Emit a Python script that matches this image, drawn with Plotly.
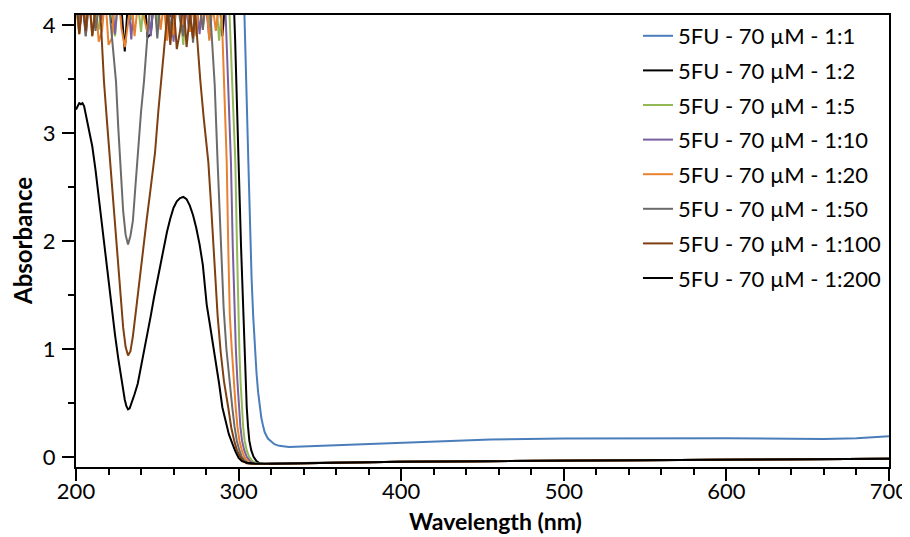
import plotly.graph_objects as go

# ---------------- data ----------------
labels = ["5FU - 70 µM - 1:1", "5FU - 70 µM - 1:2", "5FU - 70 µM - 1:5",
          "5FU - 70 µM - 1:10", "5FU - 70 µM - 1:20", "5FU - 70 µM - 1:50",
          "5FU - 70 µM - 1:100", "5FU - 70 µM - 1:200"]
colors = ["#4A7EBB", "#000000", "#93B956", "#7A5FA0", "#E9822E", "#6B6B6B", "#7E3F12", "#000000"]

# shared baseline beyond the absorption edge (non-blue series)
base_wl = [320, 340, 360, 400, 450, 500, 550, 600, 650, 700]
base_a = [-0.063, -0.058, -0.053, -0.046, -0.041, -0.037, -0.034, -0.030, -0.026, -0.018]

# 1:1 (blue) - off scale below ~303 nm
wl_1_1 = [200, 250, 300, 303, 303.5, 304.2, 305, 306, 307, 308, 309, 310, 311, 312, 313, 314,
          315, 316, 318, 320, 322, 325, 328, 331, 335, 340, 350, 380, 400, 430, 455, 500,
          550, 600, 640, 660, 680, 700]
a_1_1 = [4.6, 4.6, 4.6, 4.6, 4.15, 3.83, 3.3, 2.73, 2.15, 1.65, 1.3, 1.0, 0.78, 0.6, 0.46, 0.36,
         0.29, 0.23, 0.17, 0.14, 0.118, 0.102, 0.094, 0.092, 0.094, 0.097, 0.105, 0.122, 0.133,
         0.150, 0.162, 0.170, 0.174, 0.173, 0.168, 0.165, 0.172, 0.19]

# 1:2 (black)
noise_wl_1_2 = list(range(200, 297, 2))
noise_1_2 = [4.25, 4.18, 4.3, 4.05, 4.22, 4.28, 3.98, 4.2, 4.3, 4.12, 4.26, 4.02, 4.3, 4.21,
             4.15, 3.76, 4.24, 4.3, 4.1, 4.27, 4.19, 4.3, 3.89, 3.92, 4.25, 4.3, 4.16, 4.22,
             4.29, 4.08, 4.3, 4.2, 4.26, 3.97, 4.3, 4.18, 4.24, 4.3, 4.11, 4.27, 4.2, 3.95,
             4.3, 4.22, 4.28, 3.9, 4.25, 4.3, 4.2]
edge_wl_1_2 = [297.2, 297.9, 298.8, 300.0, 301.5, 302.9, 303.6, 304.3, 305.0, 305.8, 306.6,
               307.8, 309.2, 311, 313, 316]
edge_1_2 = [4.15, 3.85, 3.45, 2.73, 1.95, 1.31, 0.98, 0.7, 0.46, 0.28, 0.15, 0.06, 0.0,
            -0.04, -0.06, -0.066]

# 1:5 (green)
noise_wl_1_5 = list(range(200, 294, 2))
noise_1_5 = [4.22, 3.93, 4.3, 4.15, 4.26, 4.3, 4.08, 3.96, 4.28, 4.2, 4.3, 4.1, 3.9, 4.25,
             4.3, 4.18, 4.27, 4.05, 4.3, 4.22, 3.94, 4.28, 4.16, 4.3, 4.24, 4.02, 4.3, 4.19,
             4.26, 3.88, 4.3, 4.21, 4.12, 3.82, 4.25, 4.3, 4.17, 3.92, 4.28, 4.22, 4.3, 3.97,
             4.24, 4.3, 3.86, 4.2, 4.28]
edge_wl_1_5 = [294.3, 295.0, 296.3, 298.0, 299.0, 299.8, 300.5, 301.2, 301.9, 302.8, 303.7,
               305.0, 306.5, 308.5, 310.5, 314]
edge_1_5 = [4.15, 3.85, 3.45, 2.73, 1.95, 1.31, 0.98, 0.7, 0.46, 0.28, 0.15, 0.06, 0.0,
            -0.04, -0.06, -0.066]

# 1:10 (purple)
noise_wl_1_10 = list(range(200, 292, 2))
noise_1_10 = [4.3, 3.95, 4.2, 3.9, 4.28, 4.12, 4.3, 4.22, 4.05, 4.3, 4.18, 4.26, 3.92, 4.3,
              4.2, 4.1, 4.28, 3.87, 4.3, 4.22, 4.15, 4.3, 4.25, 3.9, 4.3, 4.18, 4.27, 4.3,
              4.06, 4.22, 3.85, 4.3, 4.2, 4.28, 4.12, 3.94, 4.3, 4.23, 3.92, 4.3, 4.18, 3.88,
              4.26, 4.3, 4.15, 4.24]
edge_wl_1_10 = [291.9, 292.7, 293.8, 295.3, 296.4, 297.4, 298.3, 299.2, 300.2, 301.1, 302.1,
                303.5, 305.0, 307, 309, 312]
edge_1_10 = [4.15, 3.85, 3.45, 2.73, 1.95, 1.31, 1.0, 0.72, 0.46, 0.28, 0.15, 0.06, 0.0,
             -0.04, -0.06, -0.066]

# 1:20 (orange)
noise_wl_1_20 = list(range(200, 289, 2))
noise_1_20 = [4.2, 3.92, 4.25, 4.05, 4.3, 3.9, 4.22, 3.85, 3.95, 4.28, 3.82, 3.88, 4.24, 4.3,
              3.97, 3.8, 4.02, 4.27, 3.9, 4.2, 4.3, 4.06, 3.93, 4.25, 4.14, 4.29, 3.96, 4.2,
              3.86, 4.3, 3.91, 4.22, 4.17, 4.0, 4.28, 3.94, 4.21, 3.9, 4.3, 3.98, 4.25, 3.86,
              4.19, 3.95, 4.22]
edge_wl_1_20 = [289.4, 290.2, 291.2, 292.7, 293.7, 294.6, 295.8, 297.0, 298.2, 299.3, 300.5,
                302.0, 303.5, 305.5, 307.5, 310]
edge_1_20 = [4.15, 3.85, 3.45, 2.73, 1.9, 1.31, 1.0, 0.7, 0.46, 0.28, 0.15, 0.06, 0.0,
             -0.04, -0.06, -0.066]

# 1:50 (gray)
noise_wl_1_50_a = list(range(200, 221, 2))
noise_1_50_a = [4.25, 4.05, 4.3, 3.9, 4.22, 4.3, 3.95, 4.18, 4.3, 4.1, 4.24]
dip_wl_1_50 = [221.5, 223.0, 224.6, 226.0, 227.3, 229.0, 230.5, 232.0, 233.5, 235.0, 236.5,
               238.0, 240.0, 241.8, 243.0, 244.3]
dip_1_50 = [3.98, 3.75, 3.48, 3.05, 2.68, 2.28, 2.06, 1.97, 2.05, 2.19, 2.5, 2.82, 3.2, 3.48,
            3.75, 3.98]
noise_wl_1_50_b = list(range(246, 282, 2))
noise_1_50_b = [4.2, 4.3, 3.88, 4.25, 4.12, 4.3, 3.93, 4.22, 4.3, 4.05, 3.9, 4.28, 4.18, 3.84,
                4.3, 4.2, 3.96, 4.26]
edge_wl_1_50 = [282.5, 283.7, 285.3, 287.1, 289.0, 290.8, 292.5, 294.3, 296.1, 297.5, 298.9,
                300.5, 302.0, 304.0, 306.0, 309]
edge_1_50 = [4.15, 3.85, 3.45, 2.73, 2.0, 1.38, 1.0, 0.7, 0.46, 0.28, 0.15, 0.06, 0.0,
             -0.04, -0.06, -0.066]

# 1:100 (brown)
noise_wl_1_100_a = list(range(200, 215, 2))
noise_1_100_a = [4.3, 3.92, 4.2, 3.95, 4.28, 3.9, 4.15, 4.3]
dip_wl_1_100 = [215.4, 217.2, 219.0, 221.0, 223.0, 225.0, 227.0, 229.0, 230.5, 232.0, 233.5,
                235.0, 237.3, 240.0, 243.4, 246.0, 248.6, 250.6, 252.5, 254.0, 255.5, 256.2]
dip_1_100 = [4.0, 3.48, 3.12, 2.75, 2.35, 1.95, 1.56, 1.2, 1.02, 0.94, 0.98, 1.12, 1.41, 1.78,
             2.19, 2.5, 2.82, 3.2, 3.48, 3.75, 4.0, 4.15]
noise_wl_1_100_b = list(range(258, 273, 2))
noise_1_100_b = [3.82, 4.2, 3.78, 3.95, 4.25, 3.8, 4.1, 3.88]
edge_wl_1_100 = [273.2, 274.5, 276.5, 278.5, 280.0, 281.4, 283.0, 285.0, 287.1, 289.0, 291.0,
                 293.6, 295.5, 297.3, 299.0, 301.0, 303.0, 305.0, 308]
edge_1_100 = [4.15, 3.85, 3.48, 3.15, 2.95, 2.73, 2.35, 1.85, 1.31, 0.97, 0.7, 0.46, 0.27,
              0.15, 0.06, 0.0, -0.04, -0.06, -0.066]

# 1:200 (black)
wl_1_200 = [200, 201, 202, 203, 204, 205, 206, 207, 208, 209, 210, 212, 214, 216, 218, 220,
            222, 224, 226, 228, 230, 231, 232, 233, 234, 236, 238, 240, 242, 244, 246, 248,
            250, 252, 254, 256, 258, 260, 262, 264, 266, 268, 270, 272, 274, 276, 278, 280.4,
            282, 284, 286, 288, 290, 292, 294, 296, 298, 300, 302, 305, 310]
a_1_200 = [3.22, 3.25, 3.28, 3.27, 3.28, 3.25, 3.17, 3.12, 3.04, 2.96, 2.88, 2.66, 2.40, 2.12,
           1.86, 1.61, 1.37, 1.13, 0.91, 0.70, 0.53, 0.47, 0.44, 0.45, 0.49, 0.58, 0.68, 0.83,
           0.99, 1.15, 1.31, 1.48, 1.64, 1.80, 1.95, 2.09, 2.21, 2.31, 2.37, 2.40, 2.41, 2.39,
           2.33, 2.24, 2.12, 1.97, 1.78, 1.41, 1.26, 1.07, 0.89, 0.68, 0.46, 0.32, 0.21, 0.13,
           0.05, -0.01, -0.04, -0.055, -0.062]

# ---------------- assemble series ----------------
series_x = [
    wl_1_1,
    noise_wl_1_2 + edge_wl_1_2 + base_wl,
    noise_wl_1_5 + edge_wl_1_5 + base_wl,
    noise_wl_1_10 + edge_wl_1_10 + base_wl,
    noise_wl_1_20 + edge_wl_1_20 + base_wl,
    noise_wl_1_50_a + dip_wl_1_50 + noise_wl_1_50_b + edge_wl_1_50 + base_wl,
    noise_wl_1_100_a + dip_wl_1_100 + noise_wl_1_100_b + edge_wl_1_100 + base_wl,
    wl_1_200 + base_wl,
]
series_y = [
    a_1_1,
    noise_1_2 + edge_1_2 + base_a,
    noise_1_5 + edge_1_5 + base_a,
    noise_1_10 + edge_1_10 + base_a,
    noise_1_20 + edge_1_20 + base_a,
    noise_1_50_a + dip_1_50 + noise_1_50_b + edge_1_50 + base_a,
    noise_1_100_a + dip_1_100 + noise_1_100_b + edge_1_100 + base_a,
    a_1_200 + base_a,
]

x_ticks = [200, 300, 400, 500, 600, 700]
y_ticks = [0, 1, 2, 3, 4]

FONT = "Lato"
fig = go.Figure()
for i, (lab, col) in enumerate(zip(labels, colors)):
    fig.add_trace(go.Scatter(x=series_x[i], y=series_y[i], mode="lines", name=lab,
                             legendgroup=f"g{i}",
                             line=dict(color=col, width=2)))

axis_common = dict(showline=True, linewidth=2, linecolor="black", mirror=True,
                   ticks="outside", tickwidth=2, tickcolor="black", ticklen=12,
                   showgrid=False, zeroline=False, automargin=False,
                   tickfont=dict(family=FONT, size=22, color="black"))

fig.update_xaxes(range=[200, 700], tickvals=x_ticks, ticktext=[str(v) for v in x_ticks],
                 minor=dict(dtick=20, tick0=200, ticklen=6, tickwidth=2, tickcolor="black",
                            ticks="outside"),
                 ticklabelstandoff=-8,
                 **axis_common)
fig.update_yaxes(range=[-0.094, 4.097], tickvals=y_ticks, ticktext=[str(v) for v in y_ticks],
                 minor=dict(dtick=0.5, tick0=0, ticklen=6, tickwidth=2, tickcolor="black",
                            ticks="outside"),
                 ticklabelstandoff=2,
                 **axis_common)

fig.add_annotation(text="<b>Wavelength (nm)</b>", xref="paper", yref="paper",
                   x=0.5166, y=0, yshift=-54, xanchor="center", yanchor="middle",
                   showarrow=False, font=dict(family=FONT, size=23, color="black"))
fig.add_annotation(text="<b>Absorbance</b>", xref="paper", yref="paper",
                   x=0, xshift=-54, y=0.5, xanchor="center", yanchor="middle",
                   textangle=-90, showarrow=False,
                   font=dict(family=FONT, size=24, color="black"))

# page body has an 8px margin, so the figure is offset by 8px right and down
fig.update_layout(
    width=902, height=529,
    margin=dict(l=68, r=21, t=7, b=70, autoexpand=False),
    paper_bgcolor="white", plot_bgcolor="white",
    legend=dict(x=0.6913, y=1.0, xanchor="left", yanchor="top",
                bgcolor="rgba(0,0,0,0)", borderwidth=0,
                traceorder="grouped", tracegroupgap=3,
                font=dict(family=FONT, size=22, color="black")),
)

fig.write_html("out.html")
